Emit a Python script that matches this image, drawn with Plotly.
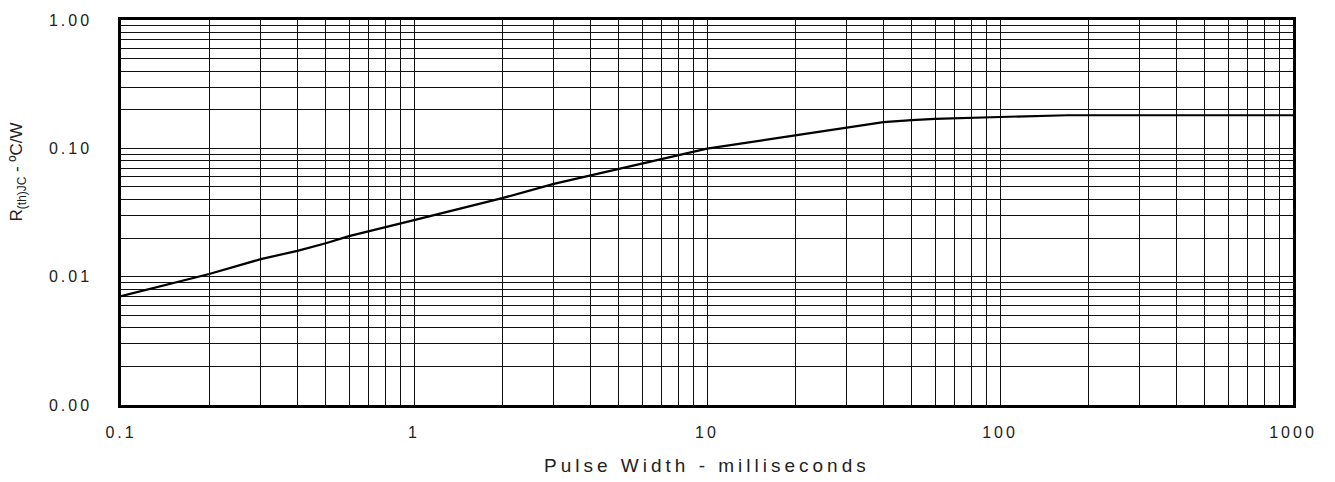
import plotly.graph_objects as go

# Data (pulse width in ms, Rth(JC) in °C/W)
pulse_ms = [0.1, 0.2, 0.3, 0.4, 0.5, 0.6, 1, 2, 3, 4, 5, 7, 10, 20, 30, 40, 50, 60, 100, 170, 1000]
rth_jc = [0.00706, 0.0105, 0.0137, 0.0159, 0.0182, 0.0207, 0.0276, 0.0409, 0.0528, 0.0613,
          0.0689, 0.0823, 0.0995, 0.126, 0.146, 0.160, 0.1656, 0.1694, 0.1755, 0.181, 0.181]

x_tickvals = [0.1, 1, 10, 100, 1000]
x_ticktext = ["0.1", "1", "10", "100", "1000"]
y_tickvals = [0.001, 0.01, 0.1, 1]
y_ticktext = ["0.00", "0.01", "0.10", "1.00"]

FONT = "Liberation Sans, Arial, sans-serif"
LS = '<span style="letter-spacing:3px">{}</span>'

fig = go.Figure()
fig.add_trace(go.Scatter(x=pulse_ms, y=rth_jc, mode="lines",
                         line=dict(color="black", width=2.2), showlegend=False))

grid_common = dict(gridcolor="#111111", gridwidth=1)

fig.update_xaxes(type="log", range=[-1, 3],
                 tickvals=x_tickvals, ticktext=[LS.format(t) for t in x_ticktext],
                 showgrid=True, **grid_common,
                 minor=dict(dtick="D1", showgrid=True, **grid_common, ticks=""),
                 showline=True, linewidth=2.5, linecolor="black", mirror=True,
                 ticks="", ticklabelstandoff=11,
                 tickfont=dict(family=FONT, size=16, color="#222222"),
                 zeroline=False)
fig.update_yaxes(type="log", range=[-3, 0],
                 tickvals=y_tickvals, ticktext=[LS.format(t) for t in y_ticktext],
                 showgrid=True, **grid_common,
                 minor=dict(dtick="D1", showgrid=True, **grid_common, ticks=""),
                 showline=True, linewidth=2.5, linecolor="black", mirror=True,
                 ticks="", ticklabelstandoff=23,
                 tickfont=dict(family=FONT, size=16, color="#222222"),
                 zeroline=False)

fig.add_annotation(xref="paper", yref="paper", x=0.5, y=-0.158,
                   text='<span style="letter-spacing:4px">Pulse Width - milliseconds</span>',
                   showarrow=False, xanchor="center", yanchor="middle",
                   font=dict(family=FONT, size=19, color="#222222"))
fig.add_annotation(xref="paper", yref="paper", x=-0.0876, y=0.605,
                   text="R<sub>(th)JC</sub> - ºC/W",
                   textangle=-90, showarrow=False, xanchor="center", yanchor="middle",
                   font=dict(family=FONT, size=17, color="#222222"))

fig.update_layout(width=1335, height=482,
                  margin=dict(l=121, r=42, t=16, b=77),
                  plot_bgcolor="white", paper_bgcolor="white")

fig.write_html("out.html")
